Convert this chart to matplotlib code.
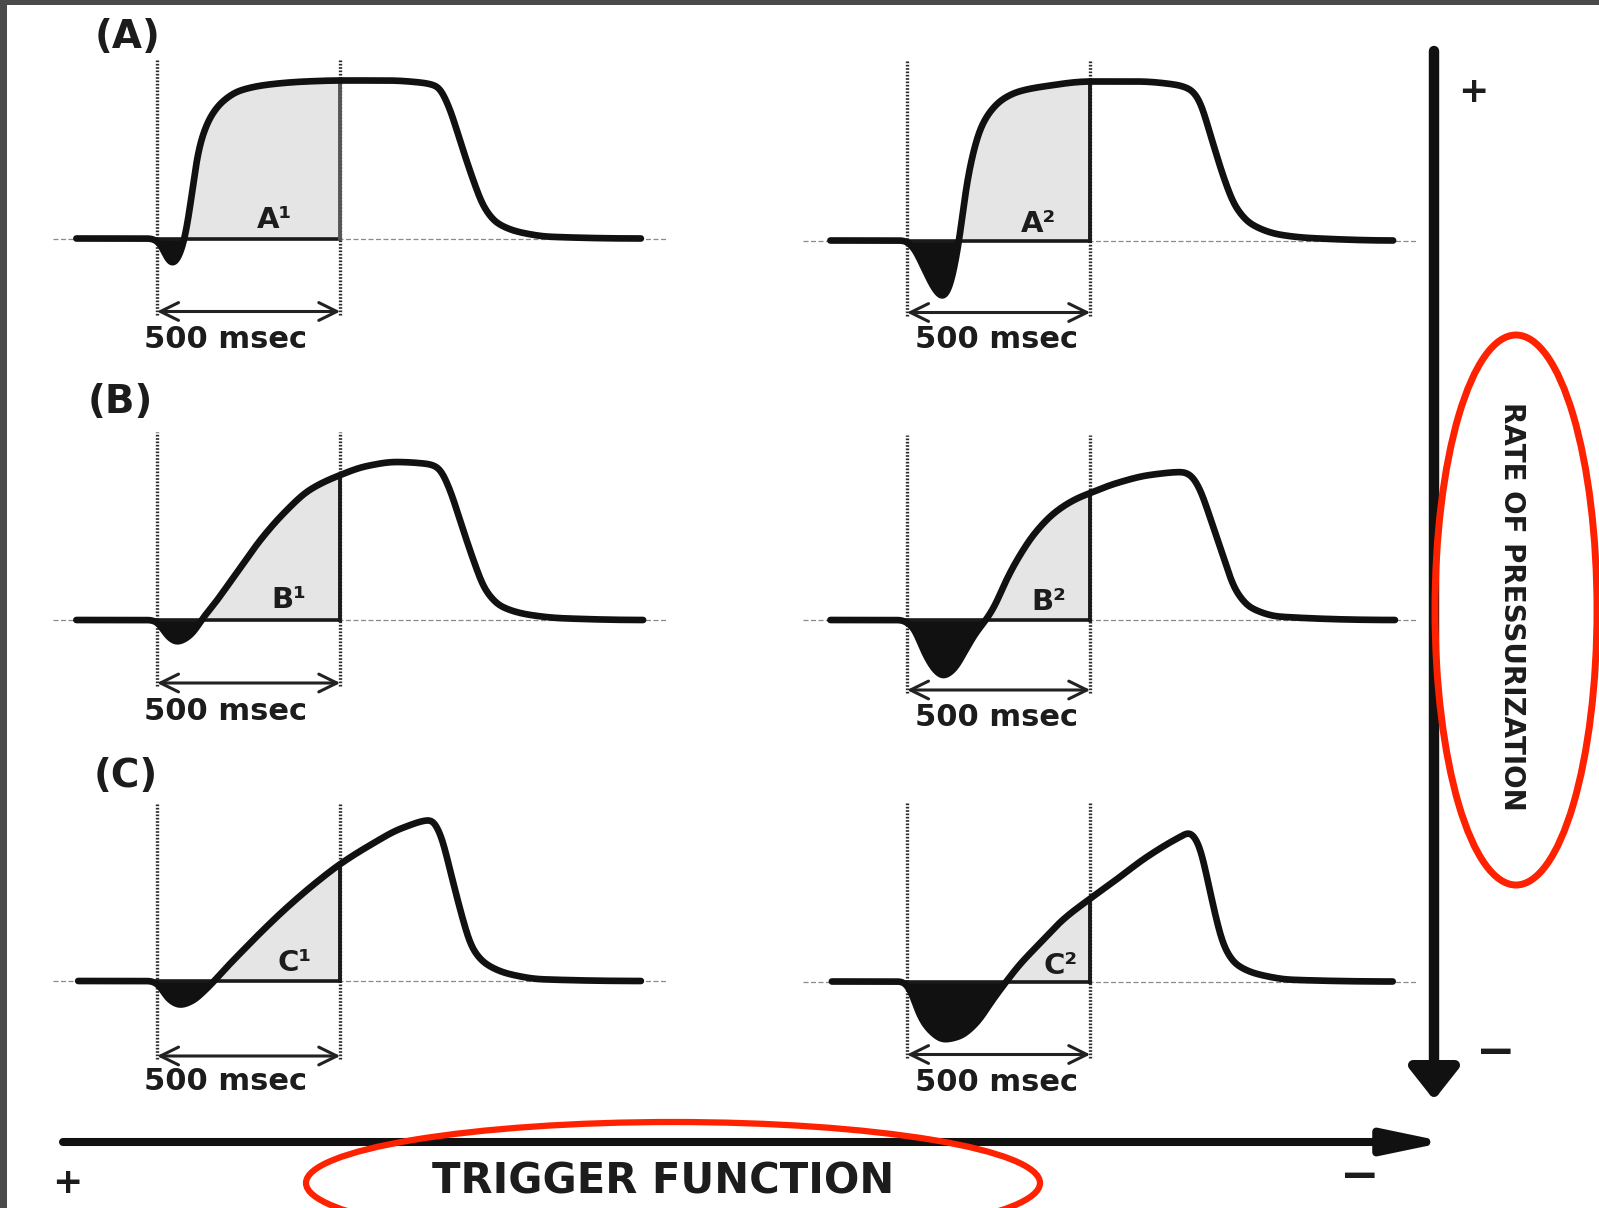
import numpy as np
import matplotlib.pyplot as plt
from matplotlib.patches import Ellipse, FancyArrowPatch, Rectangle

plt.rcParams['font.family'] = ['DejaVu Sans']

# Airway pressure waveforms.
# time in msec from the trigger point, pressure in arbitrary units (baseline = 0)
a1_t = [-220, -19, 9, 26, 42, 59, 76, 93, 109, 126, 148, 182, 227, 305, 405, 500,
        628, 718, 765, 796, 829, 863, 891, 930, 997, 1075, 1320]
a1_p = [0, 0, -0.5, -1.9, -2.6, -1.9, 0, 3.8, 8.2, 10.5, 12.3, 13.8, 14.8, 15.4, 15.7, 15.8,
        15.8, 15.6, 15.2, 13.2, 9.5, 5.8, 3.2, 1.5, 0.57, 0.17, 0]

a2_t = [-209, -10, 15, 48, 76, 98, 120, 135, 143, 160, 176, 199, 227, 260, 305, 372, 500,
        628, 729, 773, 796, 829, 863, 896, 941, 1019, 1108, 1326]
a2_p = [0, 0, -0.6, -2.9, -4.9, -5.7, -4.3, -1.5, 0, 5.1, 8.1, 11.1, 12.9, 14.1, 14.9, 15.4, 15.9,
        15.9, 15.6, 15.1, 14.1, 10.4, 6.4, 3.4, 1.6, 0.57, 0.23, 0]

b1_t = [-220, -19, 3, 26, 54, 81, 104, 121, 148, 182, 227, 282, 349, 416, 500, 573, 651,
        740, 768, 796, 829, 863, 896, 941, 1019, 1108, 1326]
b1_p = [0, 0, -0.27, -1.5, -2.2, -1.8, -1.0, 0, 1.2, 2.9, 5.2, 8.0, 10.8, 13.0, 14.5, 15.4, 15.8,
        15.6, 15.2, 13.3, 9.7, 6.0, 3.0, 1.33, 0.5, 0.17, 0]

b2_t = [-209, -19, 15, 48, 76, 98, 126, 160, 187, 215, 238, 271, 305, 349, 405, 461, 500,
        573, 662, 751, 773, 796, 829, 863, 896, 941, 1019, 1331]
b2_p = [0, 0, -0.67, -3.3, -5.0, -5.6, -5.0, -3.0, -1.33, 0, 1.33, 4.0, 6.3, 8.7, 10.8, 12.1, 12.7,
        13.7, 14.5, 14.8, 14.5, 13.3, 10.0, 6.3, 3.0, 1.17, 0.33, 0]

c1_t = [-215, -19, 3, 31, 63, 96, 129, 156, 189, 233, 287, 353, 429, 500, 582, 669, 748,
        773, 800, 828, 860, 899, 964, 1052, 1320]
c1_p = [0, 0, -0.33, -1.8, -2.4, -2.0, -1.0, 0, 1.33, 3.0, 5.0, 7.3, 9.7, 11.7, 13.6, 15.3, 16.1,
        14.7, 11.0, 7.0, 3.3, 1.67, 0.67, 0.17, 0]

c2_t = [-205, -14, 9, 32, 60, 101, 142, 188, 234, 271, 307, 362, 426, 500, 564, 656, 747, 770,
        795, 818, 840, 865, 900, 964, 1052, 1325]
c2_p = [0, 0, -0.83, -3.2, -4.8, -5.8, -5.5, -4.2, -1.83, 0, 1.67, 3.8, 6.2, 8.3, 10.0, 12.5, 14.5, 14.9,
        13.8, 10.5, 6.8, 3.5, 1.67, 0.67, 0.17, 0]

area_labels = ['A¹', 'A²', 'B¹', 'B²', 'C¹', 'C²']
row_labels = ['(A)', '(B)', '(C)']
window_label = '500 msec'


def pchip(xk, yk, x):
    # monotone cubic through the read-off knots
    xk = np.asarray(xk, float)
    yk = np.asarray(yk, float)
    h = np.diff(xk)
    d = np.diff(yk) / h
    m = np.zeros_like(yk)
    for i in range(1, len(xk) - 1):
        if d[i - 1] * d[i] > 0:
            w1 = 2 * h[i] + h[i - 1]
            w2 = h[i] + 2 * h[i - 1]
            m[i] = (w1 + w2) / (w1 / d[i - 1] + w2 / d[i])
    i = np.clip(np.searchsorted(xk, x, side='right') - 1, 0, len(h) - 1)
    s = (x - xk[i]) / h[i]
    return ((2 * s**3 - 3 * s**2 + 1) * yk[i] + (s**3 - 2 * s**2 + s) * h[i] * m[i]
            + (-2 * s**3 + 3 * s**2) * yk[i + 1] + (s**3 - s**2) * h[i] * m[i + 1])


def trace(tk, pk, step=0.5, sigma=9.0):
    # dense trace, lightly smoothed so the knots don't show as corners
    t = np.arange(tk[0], tk[-1] + step / 2, step)
    p = pchip(tk, pk, t)
    n = int(4 * sigma / step)
    g = np.exp(-0.5 * (np.arange(-n, n + 1) * step / sigma) ** 2)
    g /= g.sum()
    p = np.convolve(np.pad(p, n, mode='edge'), g, mode='valid')
    return t, p


W, H = 1599, 1208
PX_MS = 183.3 / 500      # pixels per msec
PX_UNIT = 10.0           # pixels per pressure unit
trig_px = [157, 907]     # x of the trigger line, left / right column
msec_x = [188, 245]

fig = plt.figure(figsize=(W / 100, H / 100), dpi=100)
fig.patch.set_facecolor('white')

# (t, p, column, baseline px, label pos, dotted top, arrow level, msec text y, 500 line colour)
panels = [
    (a1_t, a1_p, 0, 238.5, (320, 1.9), 17.9, -7.3, -10.1, '#555555'),
    (a2_t, a2_p, 1, 240.5, (360, 1.7), 18.1, -7.2, -9.9, '#1a1a1a'),
    (b1_t, b1_p, 0, 620.0, (359, 2.0), 18.8, -6.3, -9.1, '#1a1a1a'),
    (b2_t, b2_p, 1, 620.0, (387, 1.8), 18.5, -7.0, -9.7, '#1a1a1a'),
    (c1_t, c1_p, 0, 981.0, (376, 1.8), 17.8, -7.5, -10.1, '#1a1a1a'),
    (c2_t, c2_p, 1, 981.5, (418, 1.5), 18.0, -7.3, -10.1, '#1a1a1a'),
]

for k, (tk, pk, col, base, lab_pos, top, arr, my, vcol) in enumerate(panels):
    left = trig_px[col] - 300 * PX_MS
    bottom = base + 13 * PX_UNIT
    ax = fig.add_axes([left / W, (H - bottom) / H, 1700 * PX_MS / W, 33 * PX_UNIT / H])
    ax.set_xlim(-300, 1400)
    ax.set_ylim(-13, 20)
    ax.axis('off')

    t, p = trace(tk, pk)
    p500 = p[np.argmin(np.abs(t - 500))]

    # thin dashed baseline
    ax.plot([-285, 1390], [0, 0], color='#8a8a8a', lw=0.9, ls=(0, (4, 2)), zorder=1)
    # shaded area in the first 500 msec, and the black negative swing
    inside = (t >= 0) & (t <= 500)
    ax.fill_between(t, 0, p, where=inside & (p > 0), color='#e5e5e5', lw=0, interpolate=True, zorder=2)
    ax.fill_between(t, 0, p, where=p < 0, color='#111111', lw=0, interpolate=True, zorder=3)
    ax.plot([0, 500], [0, 0], color='#1a1a1a', lw=2.6, zorder=4)
    ax.plot([500, 500], [0, p500], color=vcol, lw=2.8, zorder=4)
    ax.plot(t, p, color='#111111', lw=4.8, solid_capstyle='round', solid_joinstyle='round', zorder=5)

    # dotted trigger / 500 msec markers and the double arrow
    for x in (0, 500):
        ax.plot([x, x], [arr - 0.3, top], color='#2a2a2a', lw=2.4, ls=(0, (0.5, 0.5)), zorder=3)
    ax.add_patch(FancyArrowPatch((0, arr), (500, arr), arrowstyle='<->,head_length=0.65,head_width=0.32',
                                 mutation_scale=20, lw=2.2, color='#222222', shrinkA=0, shrinkB=0, zorder=6))

    ax.text(lab_pos[0], lab_pos[1], area_labels[k], fontsize=21, fontweight='bold',
            color='#1c1c1c', ha='center', va='center', zorder=7)
    ax.text(msec_x[col], my, window_label, fontsize=22, fontweight='bold',
            color='#1c1c1c', ha='center', va='center')

# overlay for the frame, the axis arrows and the annotations
ov = fig.add_axes([0, 0, 1, 1])
ov.set_xlim(0, W)
ov.set_ylim(H, 0)
ov.axis('off')
ov.patch.set_alpha(0)

ov.add_patch(Rectangle((0, 0), W, 5, color='#4a4a4a', lw=0))
ov.add_patch(Rectangle((0, 0), 7, H, color='#4a4a4a', lw=0))

for lab, (x, y) in zip(row_labels, [(128, 37), (120, 402), (126, 776)]):
    ov.text(x, y, lab, fontsize=28, fontweight='bold', color='#1c1c1c', ha='center', va='center')

ov.add_patch(FancyArrowPatch((1434, 51), (1434, 1100), arrowstyle='-|>,head_length=1.9,head_width=1.5',
                             mutation_scale=10, lw=7.5, color='#111111', shrinkA=0, shrinkB=0))
ov.add_patch(FancyArrowPatch((63, 1142), (1446, 1142), arrowstyle='-|>,head_length=3.6,head_width=0.75',
                             mutation_scale=10, lw=5.8, color='#111111', shrinkA=0, shrinkB=0))

ov.add_patch(Ellipse((1516, 610), 162, 550, fill=False, ec='#ff2200', lw=5))
ov.add_patch(Ellipse((673, 1183), 734, 122, fill=False, ec='#ff2200', lw=4.5))

ov.text(1512, 606, 'RATE OF PRESSURIZATION', fontsize=20, fontweight='bold', color='#1c1c1c',
        rotation=270, ha='center', va='center')
ov.text(663, 1182, 'TRIGGER FUNCTION', fontsize=30, fontweight='bold', color='#1c1c1c',
        ha='center', va='center')

ov.text(1473, 92, '+', fontsize=26, fontweight='bold', color='#1c1c1c', ha='center', va='center')
ov.text(1496, 1054, '−', fontsize=34, fontweight='bold', color='#1c1c1c', ha='center', va='center')
ov.text(67, 1183, '+', fontsize=26, fontweight='bold', color='#1c1c1c', ha='center', va='center')
ov.text(1360, 1178, '−', fontsize=34, fontweight='bold', color='#1c1c1c', ha='center', va='center')

fig.savefig('out.png', dpi=100)
